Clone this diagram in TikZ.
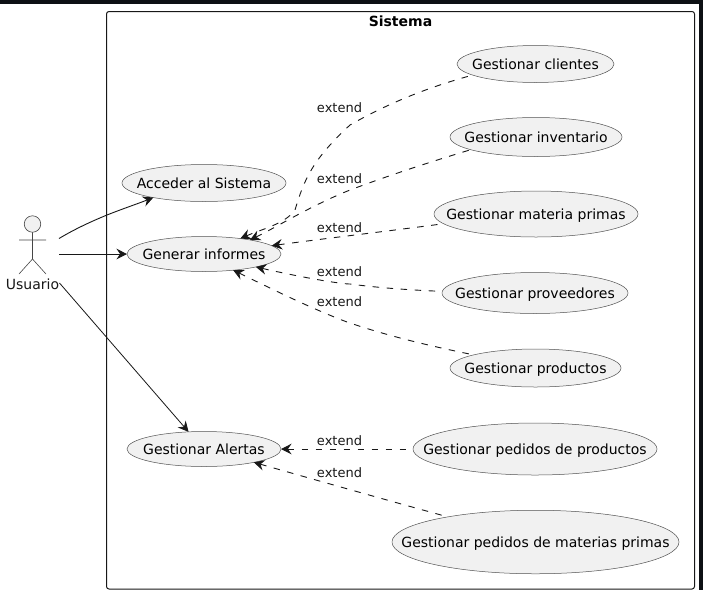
\documentclass[tikz,border=0pt]{standalone}
\usepackage{fontspec}
\setmainfont{DejaVu Sans}
\usetikzlibrary{shapes.geometric,arrows.meta}
\definecolor{ufill}{HTML}{F1F1F1}
\definecolor{uline}{HTML}{181818}
\definecolor{bar}{HTML}{0D1014}
\newcommand{\uct}[1]{\makebox[0pt][c]{\rule[-3pt]{0pt}{16pt}#1}}
\tikzset{
  uc/.style={shape=ellipse,draw=uline!75,fill=ufill,line width=0.5pt,inner sep=0pt,outer sep=0pt,text=black,font=\fontsize{14}{16}\selectfont},
  lbl/.style={inner sep=0pt,text=uline,font=\fontsize{13}{15}\selectfont},
  tipo/.tip={Stealth[inset=3.6pt,length=10.5pt,width=10.5pt]},
  assoc/.style={draw=uline,line width=0.9pt,-tipo},
  ext/.style={draw=uline,line width=0.9pt,dash pattern=on 6.5pt off 7.5pt,tipo-},
  stick/.style={draw=uline!80,line width=0.6pt},
}
\begin{document}
\begin{tikzpicture}[x=1pt,y=-1pt]
\useasboundingbox (0,0) rectangle (703,590);
\fill[white] (0,0) rectangle (703,590);
\fill[bar] (0,0) rectangle (703,3.7);
\fill[bar] (698.5,0) rectangle (703,590);
\node[draw=uline,line width=1pt,rounded corners=2.5pt,minimum width=588pt,minimum height=577.5pt,inner sep=0pt,fill=white] (frame) at (400.5,300.25) {};
\node[inner sep=0pt,font=\fontsize{14}{16}\selectfont\bfseries] (title) at (400.5,21) {Sistema};

\node[uc,minimum width=164pt,minimum height=37pt] (acc) at (204,183) {\uct{Acceder al Sistema}};
\node[uc,minimum width=154pt,minimum height=35pt] (gen) at (204,254) {\uct{Generar informes}};
\node[uc,minimum width=154pt,minimum height=35pt] (ale) at (204,449) {\uct{Gestionar Alertas}};
\node[uc,minimum width=157pt,minimum height=37pt] (cli) at (535.5,64) {\uct{Gestionar clientes}};
\node[uc,minimum width=172pt,minimum height=39pt] (inv) at (536,137) {\uct{Gestionar inventario}};
\node[uc,minimum width=204pt,minimum height=46pt] (mat) at (536,214) {\uct{Gestionar materia primas}};
\node[uc,minimum width=186pt,minimum height=41pt] (pro) at (535,293) {\uct{Gestionar proveedores}};
\node[uc,minimum width=171pt,minimum height=38pt] (prd) at (535.5,368) {\uct{Gestionar productos}};
\node[uc,minimum width=244pt,minimum height=52pt] (pp) at (535,449) {\uct{Gestionar pedidos de productos}};
\node[uc,minimum width=287pt,minimum height=63.5pt] (pm) at (535.5,542) {\uct{Gestionar pedidos de materias primas}};

% actor
\node[circle,draw=uline!80,fill=ufill,line width=0.6pt,minimum size=16.5pt,inner sep=0pt,outer sep=0pt] (head) at (32.5,224) {};
\coordinate (hip) at (32.5,259);
\coordinate (armL) at (19,240);
\coordinate (armR) at (46,240);
\coordinate (legL) at (19,274);
\coordinate (legR) at (46,274);
\draw[stick] (head) -- (hip) (armL) -- (armR) (legL) -- (hip) -- (legR);
\node[inner sep=0pt,text=uline,font=\fontsize{14}{16}\selectfont] (usr) at (32.5,284) {Usuario};
\coordinate (u1) at (59,238.5);
\coordinate (u2) at (59,254);
\coordinate (u3) at (59.5,283);

\draw[assoc] (u1) .. controls (75,229) and (90,222) .. (107,215) .. controls (122,209) and (137,204) .. (acc.196);
\draw[assoc] (u2) -- (gen.west);
\draw[assoc,line width=0.8pt] (u3) -- (ale.132);

\draw[ext] (gen.23) .. controls (262,229) and (285,224) .. (295,210) .. controls (304,180) and (312,160) .. (350,125) .. controls (385,105) and (425,88) .. (cli.190);
\draw[ext] (gen.17) .. controls (275,228) and (310,206) .. (350,190) .. controls (390,175) and (430,162) .. (inv.191);
\draw[ext] (gen.7.5) .. controls (325,238.5) and (385,231.5) .. (mat.186);
\draw[ext] (gen.-14.6) .. controls (300,277) and (340,284) .. (350,284) .. controls (380,288) and (410,290) .. (pro.179);
\draw[ext] (gen.-29) .. controls (270,288) and (310,308) .. (347,322) .. controls (385,335) and (425,345) .. (prd.168);
\draw[ext] (ale.east) -- (pp.west);
\draw[ext] (ale.-15) .. controls (316,480) and (379,498) .. (pm.164);

\node[lbl] (e1) at (339.5,108) {extend};
\node[lbl] (e2) at (339.5,179) {extend};
\node[lbl] (e3) at (339.5,227.5) {extend};
\node[lbl] (e4) at (339.5,271.5) {extend};
\node[lbl] (e5) at (339.5,302) {extend};
\node[lbl] (e6) at (339.5,441) {extend};
\node[lbl] (e7) at (339.5,473) {extend};
\end{tikzpicture}
\end{document}
